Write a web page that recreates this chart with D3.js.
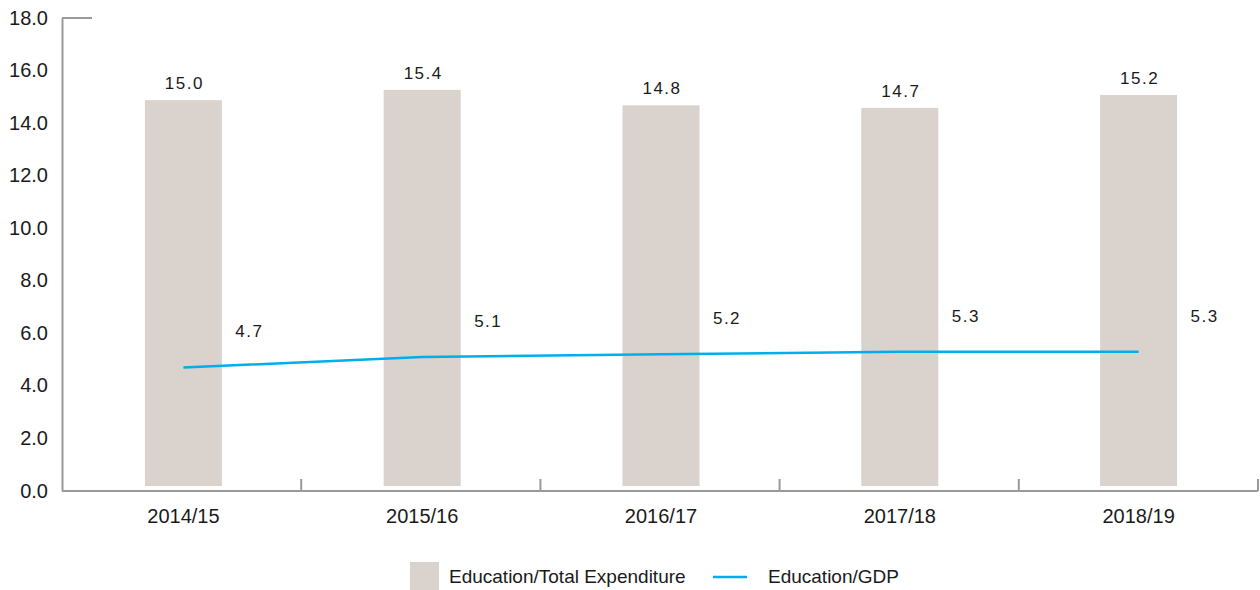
<!DOCTYPE html>
<html>
<head>
<meta charset="utf-8">
<script src="https://cdn.jsdelivr.net/npm/d3@7"></script>
<style>
  html, body { margin: 0; padding: 0; background: #fff; }
  svg { display: block; font-family: "Liberation Sans", Arial, sans-serif; }
</style>
</head>
<body>
<svg id="chart" width="1260" height="590"></svg>
<script>
const categories = ["2014/15", "2015/16", "2016/17", "2017/18", "2018/19"];
const expenditureShare = [15.0, 15.4, 14.8, 14.7, 15.2];
const gdpShare = [4.7, 5.1, 5.2, 5.3, 5.3];
const yTicks = [0, 2, 4, 6, 8, 10, 12, 14, 16, 18];
const seriesNames = ["Education/Total Expenditure", "Education/GDP"];

const svg = d3.select("#chart");
const axisColor = "#9a9a9c";
const barColor = "#dad2cc";
const lineColor = "#00aeef";
const textColor = "#1a1a1a";

const x = d3.scaleBand().domain(categories).range([64, 1258]).padding(0);
const xTick = d3.scaleBand().domain(categories).range([62, 1258]).padding(0);
const y = d3.scaleLinear().domain([0, 18]).range([491, 18]);
const yBar = d3.scaleLinear().domain([0, 18]).range([486, 23]);
const barW = 77;

// bars
svg.append("g").selectAll("rect")
  .data(categories)
  .join("rect")
  .attr("x", (d) => x(d) + x.bandwidth() / 2 - barW / 2)
  .attr("y", (d, i) => yBar(expenditureShare[i]))
  .attr("width", barW)
  .attr("height", (d, i) => yBar(0) - yBar(expenditureShare[i]))
  .attr("fill", barColor);

// bar labels
svg.append("g").selectAll("text")
  .data(categories)
  .join("text")
  .attr("x", (d) => x(d) + x.bandwidth() / 2 + 1)
  .attr("y", (d, i) => yBar(expenditureShare[i]) - 11)
  .attr("text-anchor", "middle")
  .attr("font-size", 17)
  .attr("letter-spacing", "1.5px")
  .attr("fill", textColor)
  .text((d, i) => expenditureShare[i].toFixed(1));

// y axis
const yAxis = d3.axisLeft(y).tickValues(yTicks).tickSize(0).tickPadding(14)
  .tickFormat((d) => d.toFixed(1));
const gy = svg.append("g").attr("transform", "translate(62,0)").call(yAxis);
gy.select(".domain").attr("stroke", axisColor).attr("stroke-width", 2);
gy.selectAll("text").attr("font-size", 20).attr("fill", textColor)
  .attr("font-family", "Liberation Sans, Arial, sans-serif")
  .attr("dy", "0.3em");
// top cap line
svg.append("line").attr("x1", 62).attr("x2", 92).attr("y1", y(18)).attr("y2", y(18))
  .attr("stroke", axisColor).attr("stroke-width", 2);

// x axis
const xAxis = d3.axisBottom(x).tickSize(0).tickPadding(18);
const gx = svg.append("g").attr("transform", `translate(0,${y(0)})`).call(xAxis);
gx.select(".domain").remove();
gx.selectAll("text").attr("font-size", 20).attr("fill", textColor)
  .attr("font-family", "Liberation Sans, Arial, sans-serif");
svg.append("line").attr("x1", 62).attr("x2", 1258).attr("y1", y(0)).attr("y2", y(0))
  .attr("stroke", axisColor).attr("stroke-width", 2);
// boundary ticks
svg.append("g").selectAll("line")
  .data(categories)
  .join("line")
  .attr("x1", (d) => xTick(d) + xTick.bandwidth())
  .attr("x2", (d) => xTick(d) + xTick.bandwidth())
  .attr("y1", y(0) - 12)
  .attr("y2", y(0))
  .attr("stroke", axisColor)
  .attr("stroke-width", 2);

// line
const line = d3.line()
  .x((d, i) => x(categories[i]) + x.bandwidth() / 2)
  .y((d) => y(d));
svg.append("path")
  .datum(gdpShare)
  .attr("d", line)
  .attr("fill", "none")
  .attr("stroke", lineColor)
  .attr("stroke-width", 2.5);

// line labels
svg.append("g").selectAll("text")
  .data(gdpShare)
  .join("text")
  .attr("x", (d, i) => x(categories[i]) + x.bandwidth() / 2 + 66)
  .attr("y", (d) => y(d) - 30)
  .attr("text-anchor", "middle")
  .attr("font-size", 17)
  .attr("letter-spacing", "1.5px")
  .attr("fill", textColor)
  .text((d) => d.toFixed(1));

// legend
const lg = svg.append("g");
lg.append("rect").attr("x", 410).attr("y", 562).attr("width", 29).attr("height", 28).attr("fill", barColor);
lg.append("text").attr("x", 449).attr("y", 583).attr("font-size", 19).attr("fill", textColor).text(seriesNames[0]);
lg.append("line").attr("x1", 713).attr("x2", 747).attr("y1", 577).attr("y2", 577)
  .attr("stroke", lineColor).attr("stroke-width", 2.5);
lg.append("text").attr("x", 768).attr("y", 583).attr("font-size", 19).attr("fill", textColor).text(seriesNames[1]);
</script>
</body>
</html>
